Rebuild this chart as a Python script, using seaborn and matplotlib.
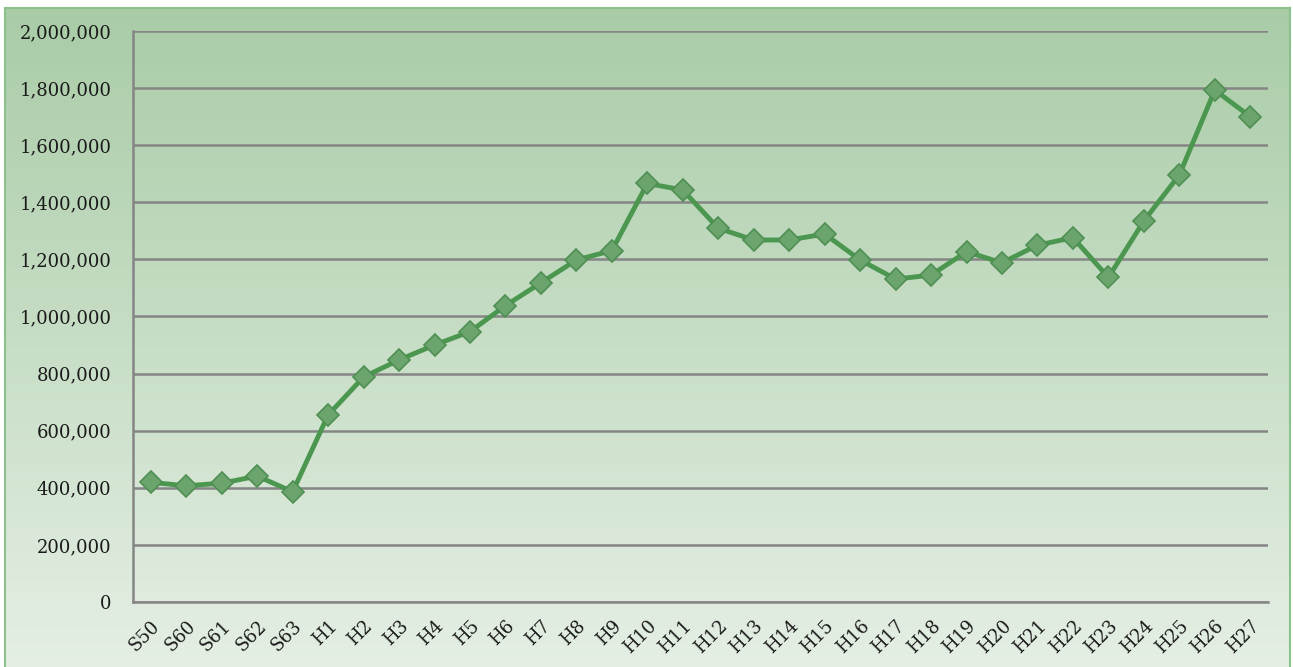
import matplotlib
matplotlib.use('Agg')

import numpy as np
import pandas as pd
import seaborn as sns
import matplotlib.pyplot as plt
from matplotlib.ticker import FuncFormatter, MultipleLocator
from matplotlib.colors import LinearSegmentedColormap


years = ['S50', 'S60', 'S61', 'S62', 'S63'] + ['H%d' % i for i in range(1, 28)]
values = [419000, 407000, 416000, 441000, 386000,
          655000, 788000, 848000, 900000, 947000, 1038000, 1118000, 1198000, 1231000, 1466000,
          1443000, 1309000, 1268000, 1268000, 1289000, 1198000, 1131000, 1145000, 1227000, 1188000,
          1250000, 1276000, 1137000, 1335000, 1496000, 1793000, 1700000]

df = pd.DataFrame({'year': years, 'value': values})

sns.set_style('white')
plt.rcParams['font.family'] = ['DejaVu Serif']

fig = plt.figure(figsize=(12.93, 6.67), dpi=100)

# gradient background with a thin green frame, white strip left/top like the source
bg = fig.add_axes([5 / 1293, 0, 1285 / 1293, 659 / 667], zorder=0)
cmap = LinearSegmentedColormap.from_list('bg', ['#a9cca7', '#e5efe4'])
grad = np.linspace(0, 1, 256).reshape(-1, 1)
bg.imshow(grad, cmap=cmap, aspect='auto', extent=[0, 1, 0, 1], origin='upper')
bg.set_xlim(0, 1)
bg.set_ylim(0, 1)
bg.set_xticks([])
bg.set_yticks([])
for s in bg.spines.values():
    s.set_color('#8cc08c')
    s.set_linewidth(1.5)
bg.spines['bottom'].set_visible(False)

ax = fig.add_axes([0.1029, 0.0975, 0.8778, 0.856], zorder=1)
ax.patch.set_alpha(0)

sns.lineplot(data=df, x='year', y='value', sort=False, ax=ax,
             color='#4b9750', linewidth=3.5, marker='D', markersize=11,
             markerfacecolor='#6ba56d', markeredgecolor='#4f8f53', markeredgewidth=1.2,
             zorder=3)

ax.set_ylim(0, 2000000)
ax.set_xlim(-0.5, len(years) - 0.5)
ax.yaxis.set_major_locator(MultipleLocator(200000))
ax.yaxis.set_major_formatter(FuncFormatter(lambda v, p: '{:,.0f}'.format(v)))
ax.grid(axis='y', color='#858585', linewidth=1.8)
ax.set_axisbelow(True)

ax.set_xticks(range(len(years)))
ax.set_xticklabels(years, rotation=45, ha='right', rotation_mode='anchor')
ax.set_xticks(np.arange(-0.5, len(years), 1), minor=True)
ax.tick_params(axis='x', which='major', length=0, pad=11, labelsize=13, colors='#1a1a1a')
ax.tick_params(axis='x', which='minor', length=4.5, width=1.5, color='#858585', direction='out')
ax.tick_params(axis='y', length=4.5, width=1.5, color='#858585', labelsize=13, labelcolor='#1a1a1a', pad=11)

for side in ['top', 'right']:
    ax.spines[side].set_visible(False)
for side in ['left', 'bottom']:
    ax.spines[side].set_color('#858585')
    ax.spines[side].set_linewidth(1.8)

ax.set_xlabel('')
ax.set_ylabel('')

fig.savefig('out.png', dpi=100)
